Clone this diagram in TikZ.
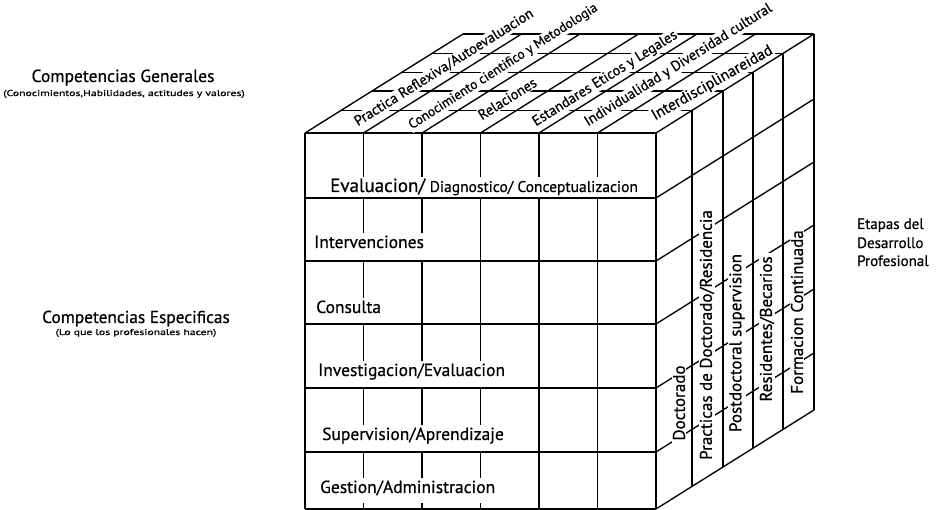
\documentclass[tikz,border=0pt]{standalone}
\usepackage{fontspec}
\setmainfont{PT Sans}[FakeBold=0.6]
\newcommand{\fsz}[1]{\fontsize{#1}{#1}\selectfont}
\begin{document}
\begin{tikzpicture}[x=1pt,y=-1pt,
  ln/.style={line width=1.35pt, black},
  rowlab/.style={fill=white, inner xsep=2pt, inner ysep=0pt, anchor=base west, text height=15pt, font=\fsz{17.5}},
  toplab/.style={fill=white, inner sep=1pt, anchor=base west, rotate=32.07, font=\fsz{14.4}},
  sidelab/.style={fill=white, inner xsep=3pt, inner ysep=1pt, anchor=center, rotate=90, font=\fsz{17}},
  sidetxt/.style={inner sep=0pt, anchor=base},
]
\useasboundingbox[fill=white] (0,0) rectangle (946,510);

% front face grid
\foreach \y in {133,198,261,324,388,452,509}
  \draw[ln] (305,\y) -- (656,\y);
\foreach \i in {0,...,6}
  \draw[ln] ({305+58.5*\i},133) -- ({305+58.5*\i},509);
% top face
\foreach \i in {0,...,6}
  \draw[ln] ({305+58.5*\i},133) -- ++(158,-99);
\foreach \f in {0.228,0.424,0.614,0.804,1}
  \draw[ln] ({305+158*\f},{133-99*\f}) -- ++(351,0);
% right face
\foreach \f in {0.228,0.424,0.614,0.804,1}
  \draw[ln] ({656+158*\f},{133-99*\f}) -- ++(0,376);
\foreach \y in {198,261,324,388,452,509}
  \draw[ln] (656,\y) -- ++(158,-99);

% front face labels
\node[rowlab, text depth=5.4pt] (r1) at (328,192) {{\fsz{19}Evaluacion/} {\fsz{15.5}Diagnostico/ Conceptualizacion}};
\node[rowlab, text depth=12pt] (r2) at (312,248) {Intervenciones};
\node[rowlab, text depth=10pt] (r3) at (314,313) {Consulta};
\node[rowlab, text depth=11pt] (r4) at (316,376) {Investigacion/Evaluacion};
\node[rowlab, text depth=11pt] (r5) at (320,440) {Supervision/Aprendizaje};
\node[rowlab, text depth=10pt] (r6) at (318,493) {Gestion/Administracion};

% top face labels
\node[toplab] (t1) at (357,127) {Practica Reflexiva/Autoevaluacion};
\node[toplab, rotate=0.6, font=\fsz{13.5}] (t2) at (411,130) {Conocimiento cientifico y Metodologia};
\node[toplab] (t3) at (481,121) {Relaciones};
\node[toplab] (t4) at (535,127) {Estandares Eticos y Legales};
\node[toplab] (t5) at (587,127) {Individualidad y Diversidad cultural};
\node[toplab, rotate=-2.5, font=\fsz{15.5}] (t6) at (654,121) {Interdisciplinareidad};

% right face labels
\node[sidelab] (s1) at (679,403) {Doctorado};
\node[sidelab] (s2) at (707,335) {Practicas de Doctorado/Residencia};
\node[sidelab] (s3) at (737,343) {Postdoctoral supervision};
\node[sidelab] (s4) at (767,329) {Residentes/Becarios};
\node[sidelab] (s5) at (797,312) {Formacion Continuada};

% side texts
\node[sidetxt, font=\fsz{17.5}] (cg) at (123,82) {Competencias Generales};
\node[sidetxt, font=\fsz{8.5}] (cgs) at (124,96) {\scalebox{1.38}[1]{(Conocimientos,Habilidades, actitudes y valores)}};
\node[sidetxt, font=\fsz{17.3}] (ce) at (136,323) {Competencias Especificas};
\node[sidetxt, font=\fsz{8.5}] (ces) at (136,335) {\scalebox{1.38}[1]{(Lo que los profesionales hacen)}};
\node[sidetxt, anchor=base west, font=\fsz{15}] (e1) at (857,229) {Etapas del};
\node[sidetxt, anchor=base west, font=\fsz{15}] (e2) at (857,248) {Desarrollo};
\node[sidetxt, anchor=base west, font=\fsz{15}] (e3) at (857,266) {Profesional};
\end{tikzpicture}
\end{document}
